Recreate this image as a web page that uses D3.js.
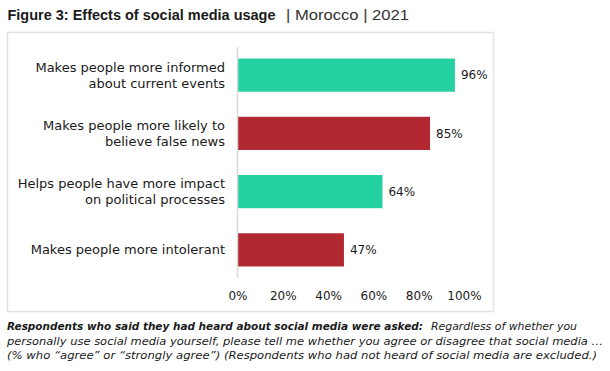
<!DOCTYPE html>
<html>
<head>
<meta charset="utf-8">
<script src="https://cdn.jsdelivr.net/npm/d3@7"></script>
<style>
  body { margin: 0; background: #fff; }
  text { font-family: "DejaVu Sans", sans-serif; fill: #1a1a1a; }
</style>
</head>
<body>
<div id="chart"></div>
<script>
// data
var categories = [
    ["Makes people more informed", "about current events"],
    ["Makes people more likely to", "believe false news"],
    ["Helps people have more impact", "on political processes"],
    ["Makes people more intolerant"]
];
var values = [96, 85, 64, 47];
var barColors = ["#24d1a1", "#b22830", "#24d1a1", "#b22830"];
var tickValues = [0, 20, 40, 60, 80, 100];

var svgWidth = 610;
var svgHeight = 371;

var svg = d3.select("#chart")
    .append("svg")
    .attr("width", svgWidth)
    .attr("height", svgHeight);

// helper: text squeezed to the width seen in the picture
function fitText(x, y, str, len, size, weight, style, fill) {
    return svg.append("text")
        .attr("x", x)
        .attr("y", y)
        .attr("textLength", len)
        .attr("lengthAdjust", "spacingAndGlyphs")
        .style("font-size", size)
        .style("font-weight", weight || "normal")
        .style("font-style", style || "normal")
        .style("fill", fill || "#1a1a1a")
        .text(str);
}

// title
fitText(7.5, 20, "Figure 3: Effects of social media usage", 268, "14.5px", "bold")
    .style("font-family", "'Liberation Sans', sans-serif");
fitText(286, 20, "|  Morocco  |  2021", 123, "14.5px", "normal", "normal", "#333")
    .style("font-family", "'Liberation Sans', sans-serif");

// chart frame
svg.append("rect")
    .attr("x", 7.5)
    .attr("y", 32.5)
    .attr("width", 486)
    .attr("height", 279)
    .attr("fill", "none")
    .attr("stroke", "#e3e3e3")
    .attr("stroke-width", 1.5);

// scales
var xScale = d3.scaleLinear()
    .domain([0, 100])
    .range([237.5, 464]);

var yScale = d3.scaleBand()
    .domain(d3.range(values.length))
    .range([46, 279])
    .paddingInner(0.43)
    .paddingOuter(0.215);

// bars
svg.selectAll(".bar")
    .data(values)
    .enter()
    .append("rect")
    .attr("class", "bar")
    .attr("x", xScale(0))
    .attr("y", (d, i) => yScale(i))
    .attr("width", d => xScale(d) - xScale(0))
    .attr("height", yScale.bandwidth())
    .attr("fill", (d, i) => barColors[i]);

// value labels
svg.selectAll(".value")
    .data(values)
    .enter()
    .append("text")
    .attr("class", "value")
    .attr("x", d => xScale(d) + 6)
    .attr("y", (d, i) => yScale(i) + yScale.bandwidth() / 2)
    .attr("dy", "0.35em")
    .style("font-size", "12px")
    .text(d => d + "%");

// y axis line
svg.append("line")
    .attr("x1", xScale(0))
    .attr("x2", xScale(0))
    .attr("y1", 47)
    .attr("y2", 278)
    .attr("stroke", "#d9d9d9")
    .attr("stroke-width", 1.5);

// category labels
var catLabels = svg.selectAll(".cat")
    .data(categories)
    .enter()
    .append("text")
    .attr("class", "cat")
    .attr("text-anchor", "end")
    .style("font-size", "13px")
    .attr("transform", (d, i) => `translate(225, ${yScale(i) + yScale.bandwidth() / 2})`);

catLabels.selectAll("tspan")
    .data(d => d.map((t, j) => ({t: t, n: d.length, j: j})))
    .enter()
    .append("tspan")
    .attr("x", 0)
    .attr("y", d => (d.j - (d.n - 1) / 2) * 16)
    .attr("dy", "0.35em")
    .text(d => d.t);

// x axis
var bottomAxis = d3.axisBottom(xScale)
    .tickValues(tickValues)
    .tickSize(0)
    .tickPadding(0)
    .tickFormat(d => d + "%");

var xAxis = svg.append("g")
    .attr("transform", "translate(0, 291)")
    .call(bottomAxis);
xAxis.select(".domain").remove();
xAxis.selectAll("text")
    .style("font-size", "12px")
    .style("font-family", "'DejaVu Sans', sans-serif")
    .attr("fill", "#1a1a1a");

// footnote
fitText(7, 330, "Respondents who said they had heard about social media were asked:", 416, "11px", "bold", "italic");
fitText(431, 330, "Regardless of whether you", 146, "11px", "normal", "italic");
fitText(7, 344.5, "personally use social media yourself, please tell me whether you agree or disagree that social media \u2026", 596, "11px", "normal", "italic");
fitText(7, 359, "(% who \u201cagree\u201d or \u201cstrongly agree\u201d)  (Respondents who had not heard of social media are excluded.)", 590, "11px", "normal", "italic");
</script>
</body>
</html>
